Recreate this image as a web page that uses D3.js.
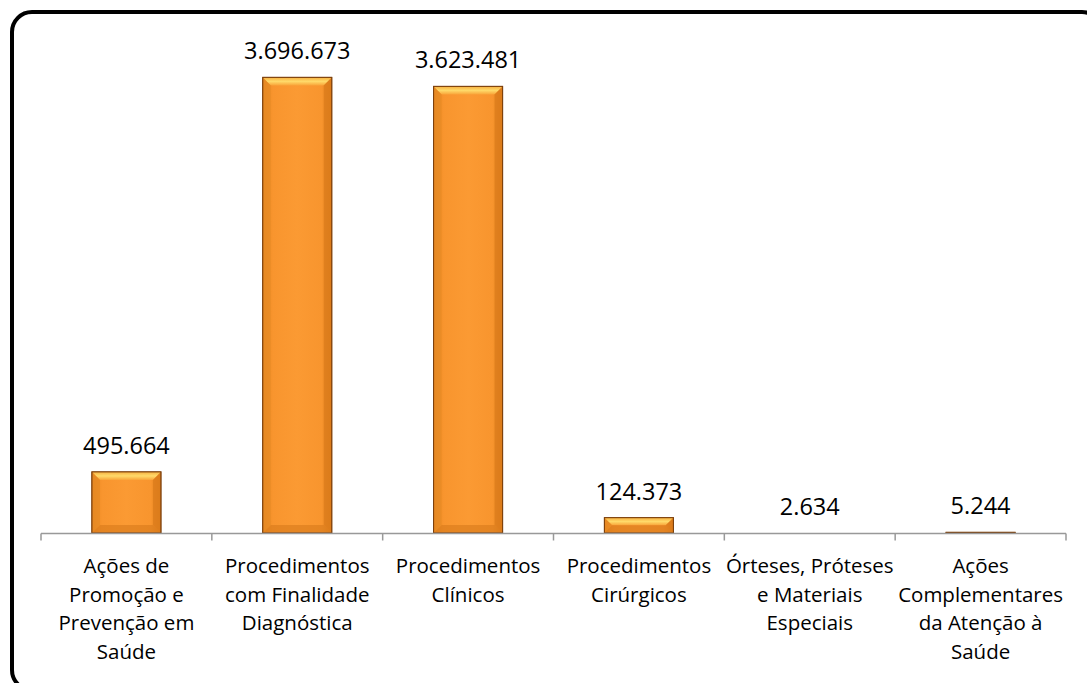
<!DOCTYPE html>
<html><head><meta charset="utf-8">
<script src="https://cdn.jsdelivr.net/npm/d3@7"></script>
<style>body{margin:0;background:#fff}svg{display:block}</style>
</head><body>
<script>
const categories = [
  ["Ações de","Promoção e","Prevenção em","Saúde"],
  ["Procedimentos","com Finalidade","Diagnóstica"],
  ["Procedimentos","Clínicos"],
  ["Procedimentos","Cirúrgicos"],
  ["Órteses, Próteses","e Materiais","Especiais"],
  ["Ações","Complementares","da Atenção à","Saúde"]
];
const values = [495664, 3696673, 3623481, 124373, 2634, 5244];
const valueLabels = ["495.664","3.696.673","3.623.481","124.373","2.634","5.244"];

const W = 1087, H = 683;
const svg = d3.select("body").append("svg").attr("width", W).attr("height", H);
const defs = svg.append("defs");
const g1 = defs.append("linearGradient").attr("id","face").attr("x1",0).attr("x2",1).attr("y1",0).attr("y2",0);
g1.append("stop").attr("offset",0).attr("stop-color","#E8861F");
g1.append("stop").attr("offset",0.15).attr("stop-color","#F8952E");
g1.append("stop").attr("offset",0.5).attr("stop-color","#FB9A33");
g1.append("stop").attr("offset",0.85).attr("stop-color","#F8952E");
g1.append("stop").attr("offset",1).attr("stop-color","#E0801C");
const g2 = defs.append("linearGradient").attr("id","topb").attr("x1",0).attr("x2",0).attr("y1",0).attr("y2",1);
g2.append("stop").attr("offset",0).attr("stop-color","#F7B040");
g2.append("stop").attr("offset",0.5).attr("stop-color","#FFDA6A");
g2.append("stop").attr("offset",1).attr("stop-color","#F9A53A");

const x = d3.scaleBand().domain(d3.range(values.length)).range([41, 1066]).paddingInner(0.596).paddingOuter(0.298);
const y = d3.scaleLinear().domain([0, 4000000]).range([533, 40]);

// border
svg.append("rect").attr("x",12).attr("y",12).attr("width",1090).attr("height",678)
  .attr("rx",20).attr("ry",20).attr("fill","none").attr("stroke","#000").attr("stroke-width",4);

// bars
const bars = svg.append("g").selectAll("g").data(values).join("g");
bars.each(function(v,i){
  const gg = d3.select(this);
  const x0 = x(i), w = x.bandwidth(), y0 = y(v), h = y(0) - y(v);
  if (h < 0.5) return;
  gg.append("rect").attr("x",x0).attr("y",y0).attr("width",w).attr("height",h)
    .attr("fill","url(#face)").attr("stroke","#8A4A10").attr("stroke-width",1);
  const b = Math.min(8, h/2);
  gg.append("path").attr("d",`M${x0},${y0}L${x0+w},${y0}L${x0+w-b},${y0+b}L${x0+b},${y0+b}Z`).attr("fill","url(#topb)");
  gg.append("path").attr("d",`M${x0},${y0+h}L${x0+w},${y0+h}L${x0+w-b},${y0+h-b}L${x0+b},${y0+h-b}Z`).attr("fill","#D77A1A").attr("opacity",0.6);
  gg.append("path").attr("d",`M${x0},${y0}L${x0+b},${y0+b}L${x0+b},${y0+h-b}L${x0},${y0+h}Z`).attr("fill","#E58A25").attr("opacity",0.7);
  gg.append("path").attr("d",`M${x0+w},${y0}L${x0+w-b},${y0+b}L${x0+w-b},${y0+h-b}L${x0+w},${y0+h}Z`).attr("fill","#D9791A").attr("opacity",0.7);
  gg.append("rect").attr("x",x0).attr("y",y0).attr("width",w).attr("height",h)
    .attr("fill","none").attr("stroke","#7A3F0C").attr("stroke-width",1);
});

// axis
const ag = svg.append("g").attr("transform","translate(0,533.5)");
ag.append("line").attr("x1",41).attr("x2",1066).attr("y1",0).attr("y2",0).attr("stroke","#999").attr("stroke-width",1.5);
const tickPos = d3.range(values.length+1).map(i => x(0) - x.step()*x.paddingOuter() + i*x.step());
ag.selectAll("line.t").data(tickPos).join("line").attr("class","t")
  .attr("x1",d=>d).attr("x2",d=>d).attr("y1",0).attr("y2",7).attr("stroke","#999").attr("stroke-width",1.5);

// value labels
svg.append("g").selectAll("text").data(values).join("text")
  .attr("x",(d,i)=>x(i)+x.bandwidth()/2).attr("y",d=>y(d)-18)
  .attr("text-anchor","middle").attr("font-family","'Open Sans', sans-serif").attr("font-size",23.5).attr("fill","#000")
  .text((d,i)=>valueLabels[i]);

// category labels
const cl = svg.append("g").selectAll("text").data(categories).join("text")
  .attr("x",(d,i)=>x(i)+x.bandwidth()/2).attr("y",573)
  .attr("text-anchor","middle").attr("font-family","'Open Sans', sans-serif").attr("font-size",20.5).attr("fill","#000");
cl.selectAll("tspan").data(d=>d).join("tspan")
  .attr("x",function(){return d3.select(this.parentNode).attr("x");})
  .attr("dy",(d,j)=>j===0?0:28.5).text(d=>d);
</script>
</body></html>
